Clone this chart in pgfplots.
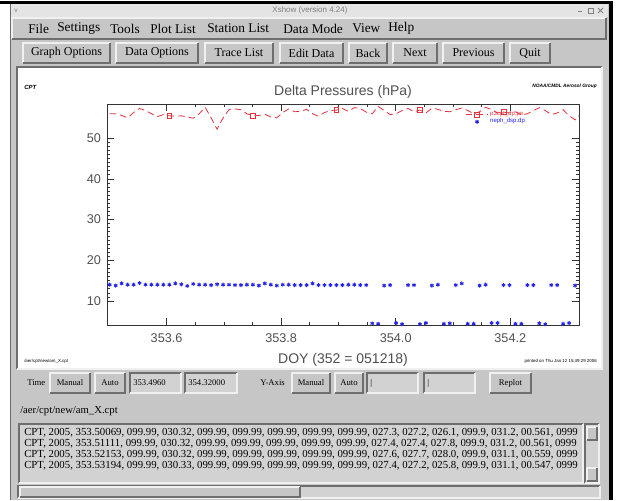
\documentclass[border=0pt]{standalone}
\usepackage{pgfplots}
\pgfplotsset{compat=1.18}
\usepackage{pgfplotstable}
\usepackage{fontspec}
\setmainfont{Liberation Serif}
\newfontfamily\plotfont{Liberation Sans}
\definecolor{winbg}{RGB}{198,198,198}
\definecolor{titlebg}{RGB}{228,228,228}
\definecolor{ltedge}{RGB}{240,240,240}
\definecolor{dkedge}{RGB}{110,110,110}
\definecolor{fieldbg}{RGB}{210,210,210}
\definecolor{idlred}{RGB}{228,50,60}
\definecolor{idlblue}{RGB}{35,35,235}
\definecolor{labgray}{RGB}{80,80,80}

\newcommand{\raised}[4]{%
  \fill[winbg] (#1,#2) rectangle (#3,#4);
  \draw[ltedge,line width=0.9pt] (#1,#4) -- (#1,#2) -- (#3,#2);
  \draw[dkedge,line width=0.9pt] (#3,#2) -- (#3,#4) -- (#1,#4);}
\newcommand{\sunken}[5]{%
  \fill[#5] (#1,#2) rectangle (#3,#4);
  \draw[dkedge,line width=0.9pt] (#1,#4) -- (#1,#2) -- (#3,#2);
  \draw[ltedge,line width=0.9pt] (#3,#2) -- (#3,#4) -- (#1,#4);}
\newcommand{\btnfont}{\fontsize{9}{10}\selectfont}
\newcommand{\smallbtnfont}{\fontsize{6.5}{7}\selectfont}
\newcommand{\btn}[5]{\raised{#1}{#2}{#3}{#4}\node[font=\btnfont,inner sep=0pt] at ({(#1+#3)/2},{(#2+#4)/2}) {#5};}
\newcommand{\sbtn}[5]{\raised{#1}{#2}{#3}{#4}\node[font=\smallbtnfont,inner sep=0pt] at ({(#1+#3)/2},{(#2+#4)/2}) {#5};}

\pgfplotstableread{
x y
353.50069 56.0
353.51111 56.0
353.52153 55.6
353.53194 55.0
353.54236 56.3
353.55278 57.3
353.56319 56.8
353.57361 56.0
353.58403 55.3
353.59444 55.8
353.60486 55.5
353.61528 55.4
353.62569 55.5
353.63611 55.2
353.64653 54.9
353.65694 56.0
353.66736 57.6
353.67778 55.0
353.68819 52.2
353.69861 55.0
353.70903 57.0
353.71944 57.2
353.72986 57.0
353.74028 56.0
353.75069 55.5
353.76111 55.6
353.77153 55.9
353.78194 55.2
353.79236 55.0
353.80278 56.3
353.81319 57.2
353.82361 56.5
353.83403 56.6
353.84444 57.1
353.85486 56.0
353.86528 55.4
353.87569 56.3
353.88611 56.8
353.89653 56.9
353.90694 57.3
353.91736 56.6
353.92778 57.5
353.93819 57.3
353.94861 56.4
353.95903 56.0
353.96944 57.8
353.97986 56.8
353.99028 55.8
354.00069 56.0
354.01111 56.8
354.02153 57.3
354.03194 56.5
354.04236 56.9
354.05278 56.2
354.06319 57.4
354.07361 57.1
354.08403 56.6
354.09444 56.5
354.10486 57.0
354.11528 57.4
354.12569 56.8
354.13611 56.0
354.14653 56.5
354.15694 57.6
354.16736 57.0
354.17778 56.2
354.18819 56.4
354.19861 56.2
354.20903 56.5
354.21944 55.7
354.22986 56.0
354.24028 56.8
354.25069 57.5
354.26111 56.8
354.27153 55.8
354.28194 56.2
354.29236 57.0
354.30278 55.5
354.31319 54.5
354.32361 56.0
}\reddata

\pgfplotstableread{
x y
353.50069 14.0
353.51111 13.8
353.52153 14.3
353.53194 14.0
353.54236 14.0
353.55278 14.4
353.56319 14.0
353.57361 14.0
353.58403 14.0
353.59444 14.0
353.60486 14.0
353.61528 14.3
353.62569 14.1
353.63611 13.7
353.64653 14.2
353.65694 14.0
353.66736 14.0
353.67778 13.9
353.68819 14.1
353.69861 14.0
353.70903 14.0
353.71944 13.9
353.72986 13.9
353.74028 14.0
353.75069 14.0
353.76111 13.8
353.77153 14.3
353.78194 14.0
353.79236 13.8
353.80278 14.0
353.81319 14.0
353.82361 13.9
353.83403 13.9
353.84444 13.9
353.85486 14.3
353.86528 13.9
353.87569 13.9
353.88611 13.9
353.89653 13.9
353.90694 13.9
353.91736 14.0
353.92778 14.0
353.93819 13.9
353.94861 13.9
353.95903 4.5
353.96944 4.4
353.97986 13.8
353.99028 13.9
354.00069 4.6
354.01111 4.3
354.02153 13.9
354.03194 13.9
354.04236 4.3
354.05278 4.6
354.06319 13.8
354.07361 14.0
354.08403 4.4
354.09444 4.5
354.10486 13.9
354.11528 14.3
354.12569 4.4
354.13611 4.4
354.14653 13.8
354.15694 14.0
354.16736 4.6
354.17778 4.6
354.18819 13.9
354.19861 13.9
354.20903 4.4
354.21944 4.4
354.22986 13.9
354.24028 13.9
354.25069 4.5
354.26111 4.3
354.27153 13.9
354.28194 13.9
354.29236 4.4
354.30278 4.6
354.31319 13.8
}\bluedata

\begin{document}
\begin{tikzpicture}
\begin{scope}[x=0.75pt,y=-0.75pt]
\useasboundingbox (0,0) rectangle (639,500);
\fill[white] (0,0) rectangle (639,500);
% outer black frame
\fill[black] (0,1) rectangle (613,4);
\fill[black] (609,1) rectangle (613,500);
% window
\fill[winbg] (10,4) rectangle (609,500);
\draw[dkedge,line width=0.6pt] (10.5,4) -- (10.5,500);
% title bar
\fill[titlebg] (11,4) rectangle (608,17);
\node[font=\plotfont\fontsize{6}{7}\selectfont, text=gray] at (310,10.5) {Xshow (version 4.24)};
\node[font=\plotfont\fontsize{5}{6}\selectfont, text=gray] at (16,10.5) {v};
\draw[gray,line width=0.6pt] (578,11) -- (582,11);
\draw[gray,line width=0.5pt] (588,8) rectangle (593,13);
\draw[gray,line width=0.6pt] (598,8) -- (603,13) (598,13) -- (603,8);
% menu bar
\raised{12}{18}{606}{39}
\begin{scope}[every node/.style={font=\fontsize{10}{12}\selectfont,anchor=west,inner sep=0pt}]
\node at (28,28.5) {File};
\node at (57,28.5) {Settings};
\node at (110,28.5) {Tools};
\node at (150,28.5) {Plot List};
\node at (207,28.5) {Station List};
\node at (283,28.5) {Data Mode};
\node at (352,28.5) {View};
\node at (388,28.5) {Help};
\end{scope}
% buttons
\btn{23}{43}{110}{63}{Graph Options}
\btn{116}{43}{198}{63}{Data Options}
\btn{205}{43}{273}{63}{Trace List}
\btn{280}{43}{343}{63}{Edit Data}
\btn{349}{43}{387}{63}{Back}
\btn{393}{43}{437}{63}{Next}
\btn{443}{43}{504}{63}{Previous}
\btn{510}{43}{550}{63}{Quit}
% plot canvas
\sunken{17}{67}{602}{369}{white}
\node[font=\plotfont\itshape\bfseries\fontsize{4.5}{5}\selectfont,anchor=west,inner sep=0pt] at (24,87) {CPT};
\node[font=\plotfont\itshape\bfseries\fontsize{3.6}{4}\selectfont,anchor=east,inner sep=0pt] at (597,86) {NOAA/CMDL Aerosol Group};
\node[font=\plotfont\fontsize{3.3}{4}\selectfont,anchor=west,inner sep=0pt] at (24,361) {/aer/cpt/new/am\_X.cpt};
\node[font=\plotfont\fontsize{3.3}{4}\selectfont,anchor=east,inner sep=0pt] at (597,361) {printed on Thu Jan 12 15:49:29 2006};
% control row
\node[font=\fontsize{6.5}{7}\selectfont,anchor=west,inner sep=0pt] at (27,383) {Time};
\sbtn{50}{373}{90}{393}{Manual}
\sbtn{95}{373}{125}{393}{Auto}
\sunken{130}{373}{181}{393}{fieldbg}
\node[font=\smallbtnfont,anchor=west,inner sep=0pt] at (133,383) {353.4960};
\sunken{185}{373}{237}{393}{fieldbg}
\node[font=\smallbtnfont,anchor=west,inner sep=0pt] at (188,383) {354.32000};
\node[font=\fontsize{6.5}{7}\selectfont,anchor=west,inner sep=0pt] at (260,383) {Y-Axis};
\sbtn{292}{373}{330}{393}{Manual}
\sbtn{335}{373}{363}{393}{Auto}
\sunken{367}{373}{418}{393}{fieldbg}
\node[font=\smallbtnfont,anchor=west,inner sep=0pt] at (370,383) {|};
\sunken{424}{373}{475}{393}{fieldbg}
\node[font=\smallbtnfont,anchor=west,inner sep=0pt] at (427,383) {|};
\sbtn{490}{373}{531}{393}{Replot}
% file path
\node[font=\fontsize{8}{9}\selectfont,anchor=west,inner sep=0pt] at (20,411) {/aer/cpt/new/am\_X.cpt};
% text box
\sunken{19}{424}{583}{483}{fieldbg}
\begin{scope}[every node/.style={font=\fontsize{8.1}{9}\selectfont,anchor=west,inner sep=0pt}]
\node at (24,433) {CPT, 2005, 353.50069, 099.99, 030.32, 099.99, 099.99, 099.99, 099.99, 099.99, 027.3, 027.2, 026.1, 099.9, 031.2, 00.561, 0999};
\node at (24,444) {CPT, 2005, 353.51111, 099.99, 030.32, 099.99, 099.99, 099.99, 099.99, 099.99, 027.4, 027.4, 027.8, 099.9, 031.2, 00.561, 0999};
\node at (24,455) {CPT, 2005, 353.52153, 099.99, 030.32, 099.99, 099.99, 099.99, 099.99, 099.99, 027.6, 027.7, 028.0, 099.9, 031.1, 00.559, 0999};
\node at (24,466) {CPT, 2005, 353.53194, 099.99, 030.33, 099.99, 099.99, 099.99, 099.99, 099.99, 027.4, 027.2, 025.8, 099.9, 031.1, 00.547, 0999};
\end{scope}
% vertical scrollbar
\sunken{585}{424}{599}{483}{fieldbg}
\raised{587}{427}{597}{440}
\raised{587}{468}{597}{481}
% horizontal scrollbar
\sunken{18}{486}{600}{498}{fieldbg}
\raised{20}{487}{300}{497}
\end{scope}

\begin{axis}[
  at={(80.25pt,-243.75pt)}, anchor=south west,
  width=354pt, height=165.75pt, scale only axis,
  xmin=353.496, xmax=354.32, ymin=4.1, ymax=58.4,
  xtick={353.6,353.8,354.0,354.2},
  xticklabels={353.6,353.8,354.0,354.2},
  minor x tick num=3,
  ytick={10,20,30,40,50},
  minor y tick num=9,
  tick align=inside,
  major tick length=5pt, minor tick length=2.6pt,
  axis line style={black!80,line width=0.6pt},
  tick style={black!80,line width=0.5pt},
  /pgf/number format/assume math mode=true,
  tick label style={font=\plotfont\fontsize{9.5}{11}\selectfont, text=labgray},
  xticklabel style={yshift=-3pt},
  yticklabel style={xshift=-1pt},
  title={Delta Pressures (hPa)},
  title style={font=\plotfont\fontsize{10.5}{12}\selectfont, text=labgray, at={(0.5,1)}, anchor=south, yshift=-5pt},
  xlabel={DOY (352 = 051218)},
  xlabel style={font=\plotfont\fontsize{10.5}{12}\selectfont, text=labgray, at={(0.5,0)}, anchor=center, yshift=-26pt},
  legend style={at={(0.75,0.985)}, anchor=north west, draw=none, fill=none,
    font=\plotfont\fontsize{4.5}{5}\selectfont, row sep=-1.5pt,
    nodes={inner sep=1pt}},
  legend cell align=left,
]
\addplot[idlred, line width=0.6pt, dash pattern=on 5pt off 3pt,
  mark=square, mark size=1.8pt, mark repeat=14, mark phase=11,
  mark options={solid, line width=0.5pt}] table[x=x,y=y] {\reddata};
\addlegendentry[text=idlred]{p3cpt\_dp.pe}
\addplot[idlblue, only marks, mark=asterisk, mark size=1.5pt,
  mark options={line width=0.7pt}] table[x=x,y=y] {\bluedata};
\addlegendentry[text=idlblue]{neph\_dsp.dp}
\end{axis}
\end{tikzpicture}
\end{document}
